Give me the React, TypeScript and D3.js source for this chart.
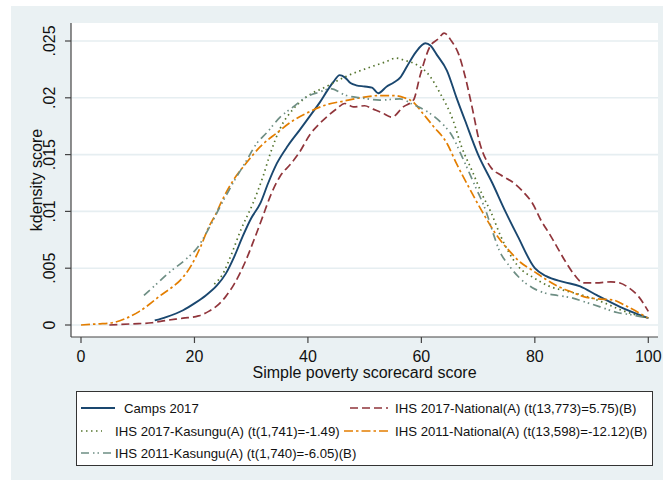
import React from 'react';
import * as d3 from 'd3';

// kdensity estimates: [score, density]
const camps2017: [number, number][] = [
  [13, 0.0004], [15, 0.0007], [18, 0.0013], [20, 0.0019], [22, 0.0026], [24, 0.0035],
  [25.5, 0.0045], [27, 0.006], [28.5, 0.0078], [30, 0.0094], [31.6, 0.0107], [33, 0.0125],
  [34.5, 0.0142], [36.5, 0.0158], [38.6, 0.0172], [40.5, 0.0185], [42.1, 0.0196], [43.5, 0.0207],
  [44.5, 0.0214], [45.6, 0.022], [46.5, 0.0218], [47.5, 0.0213], [48.5, 0.0211], [50, 0.021],
  [51.3, 0.0209], [52.4, 0.0204], [53.9, 0.021], [55, 0.0213], [56.3, 0.0218], [57.5, 0.0228],
  [59, 0.024], [60.7, 0.0248], [61.6, 0.0246], [62.7, 0.0238], [64.5, 0.0224], [66.2, 0.02],
  [67.7, 0.018], [70, 0.015], [72.5, 0.0125], [74.8, 0.01], [77, 0.0078], [80, 0.005],
  [82, 0.0043], [85, 0.0038], [88, 0.0034], [91, 0.0026], [95, 0.0016], [100, 0.0006],
];

const ihs2017National: [number, number][] = [
  [5, 0.0], [9, 0.0001], [12.5, 0.0002], [15, 0.0004], [18, 0.0006], [20.7, 0.0008],
  [22.5, 0.0012], [24, 0.0017], [25.5, 0.0025], [27, 0.0036], [28.9, 0.0055], [30.5, 0.0075],
  [32, 0.0095], [33.5, 0.0115], [35.1, 0.0131], [37, 0.0142], [38.5, 0.0152], [40.4, 0.0168],
  [42, 0.0177], [43.5, 0.0184], [45, 0.019], [46.5, 0.0195], [48, 0.0192], [50, 0.0193],
  [51.5, 0.019], [53, 0.0187], [54.8, 0.0183], [56.8, 0.0192], [58.6, 0.0198], [59.8, 0.022],
  [61.5, 0.0245], [63, 0.0252], [64, 0.0257], [65.3, 0.025], [66.6, 0.0238], [67.7, 0.0219],
  [68.8, 0.0195], [70.3, 0.016], [72.2, 0.0139], [74, 0.0132], [76.3, 0.0125], [78, 0.0117],
  [79.6, 0.0107], [81.1, 0.0092], [82.6, 0.008], [84.1, 0.0067], [85.5, 0.0055], [86.7, 0.0046],
  [88.6, 0.0037], [90.8, 0.0037], [93.4, 0.0038], [95, 0.0037], [96.5, 0.0033], [98.3, 0.0025],
  [100, 0.0012],
];

const ihs2017Kasungu: [number, number][] = [
  [23.5, 0.0036], [25, 0.0045], [26.5, 0.0062], [28.2, 0.0084], [30.3, 0.0107], [32.1, 0.0131],
  [33.3, 0.015], [35.1, 0.0173], [37.4, 0.019], [39.8, 0.0201], [43.3, 0.021], [46.8, 0.0219],
  [50.4, 0.0226], [53.9, 0.0232], [55.5, 0.0235], [57, 0.0233], [59.2, 0.0229], [61.5, 0.0219],
  [63.3, 0.0204], [65.6, 0.018], [67, 0.0158], [69, 0.0135], [70.7, 0.0115], [72.2, 0.01],
  [74, 0.0078], [77, 0.0052], [80, 0.0041], [82.6, 0.0034], [85.5, 0.003], [88.6, 0.0026],
  [92, 0.002], [95.3, 0.0013], [100, 0.0006],
];

const ihs2011National: [number, number][] = [
  [0, 0.0], [3, 0.0001], [5.5, 0.0002], [8, 0.0006], [10.3, 0.0012], [12, 0.0018],
  [14, 0.0026], [16, 0.0033], [17.8, 0.0041], [19.5, 0.0053], [21, 0.0068], [22.5, 0.0086],
  [23.7, 0.0097], [24.8, 0.0109], [26.8, 0.0127], [29.2, 0.0143], [31.6, 0.0157], [34.5, 0.0169],
  [37.4, 0.018], [40.4, 0.0188], [43.3, 0.0194], [46.2, 0.0197], [49.2, 0.02], [52.7, 0.0202],
  [55, 0.0202], [57, 0.02], [58.6, 0.0196], [60.3, 0.0186], [62.1, 0.0175], [64.5, 0.016],
  [66.2, 0.0142], [68.5, 0.012], [70.7, 0.01], [73, 0.0081], [75.9, 0.0063], [77.5, 0.0055],
  [79.6, 0.0048], [82, 0.004], [84.1, 0.0034], [86.5, 0.0029], [88.6, 0.0025], [91, 0.0023],
  [93.8, 0.0022], [96, 0.0017], [100, 0.0006],
];

const ihs2011Kasungu: [number, number][] = [
  [11.1, 0.0026], [13.5, 0.0037], [15.5, 0.0046], [18.5, 0.0058], [20.5, 0.0068], [22.2, 0.0082],
  [24.5, 0.0104], [26.8, 0.0125], [29.2, 0.0145], [31, 0.016], [32.7, 0.0169], [35.1, 0.0183],
  [37.4, 0.0192], [39.8, 0.0201], [42, 0.0205], [44, 0.0208], [46.8, 0.0202], [49.2, 0.02],
  [52.7, 0.0198], [56.2, 0.0199], [58.6, 0.0194], [61, 0.0188], [63.3, 0.0179], [65.6, 0.0165],
  [67, 0.015], [69.5, 0.0122], [71.4, 0.01], [72.7, 0.008], [73.7, 0.0066], [75.5, 0.0052],
  [77.4, 0.0041], [79.5, 0.0033], [81.9, 0.0028], [84, 0.0026], [86.4, 0.0024], [89, 0.002],
  [91.5, 0.0016], [94.5, 0.0011], [97, 0.0009], [100, 0.0006],
];

const xTicks = [0, 20, 40, 60, 80, 100];
const yTicks = [0, 0.005, 0.01, 0.015, 0.02, 0.025];
const yTickLabels = ['0', '.005', '.01', '.015', '.02', '.025'];

const seriesLabels = [
  'Camps 2017',
  'IHS 2017-National(A) (t(13,773)=5.75)(B)',
  'IHS 2017-Kasungu(A) (t(1,741)=-1.49)',
  'IHS 2011-National(A) (t(13,598)=-12.12)(B)',
  'IHS 2011-Kasungu(A) (t(1,740)=-6.05)(B)',
];

const series = [
  { data: camps2017, color: '#1a476f', dash: 'none', width: 1.9 },
  { data: ihs2017National, color: '#90353b', dash: '8,4', width: 1.7 },
  { data: ihs2017Kasungu, color: '#55752f', dash: '1.5,3.5', width: 1.7 },
  { data: ihs2011National, color: '#e37e00', dash: '9,3,2.5,3', width: 1.7 },
  { data: ihs2011Kasungu, color: '#6e8e84', dash: '8,4,1.5,3,1.5,4', width: 1.7 },
];

const font = 'Arial, "Liberation Sans", Helvetica, sans-serif';

export default function App() {
  const W = 663;
  const H = 484;
  // plot region (white)
  const plot = { left: 71, right: 658, top: 23, bottom: 337 };

  const x = d3.scaleLinear().domain([0, 100]).range([81, 648.3]);
  const y = d3.scaleLinear().domain([0, 0.025]).range([325, 41]);

  const line = d3
    .line<[number, number]>()
    .x((d) => x(d[0]))
    .y((d) => y(d[1]))
    .curve(d3.curveMonotoneX);

  // legend layout
  const legendRows = [408, 431, 453];
  const legendItems = [
    { s: 0, col: 0, row: 0, keyX: [81, 115], textX: 124 },
    { s: 1, col: 1, row: 0, keyX: [350, 388], textX: 395 },
    { s: 2, col: 0, row: 1, keyX: [81, 102], textX: 115 },
    { s: 3, col: 1, row: 1, keyX: [344, 388], textX: 395 },
    { s: 4, col: 0, row: 2, keyX: [81, 115], textX: 115 },
  ];

  return (
    <svg
      width={W}
      height={H}
      style={{ position: 'absolute', left: 0, top: 0, display: 'block' }}
      fontFamily={font}
    >
      <rect x={0} y={0} width={W} height={H} fill="#ffffff" />
      <rect x={11} y={6} width={W - 11} height={474} fill="#eaf1f3" />
      <rect
        x={plot.left}
        y={plot.top}
        width={plot.right - plot.left}
        height={plot.bottom - plot.top}
        fill="#ffffff"
      />

      {/* grid lines */}
      {yTicks.map((t) => (
        <line
          key={'g' + t}
          x1={plot.left}
          x2={plot.right}
          y1={y(t)}
          y2={y(t)}
          stroke="#e6eef1"
          strokeWidth={1.6}
        />
      ))}

      {/* density curves */}
      {series.map((s, i) => (
        <path
          key={'s' + i}
          d={line(s.data) || ''}
          fill="none"
          stroke={s.color}
          strokeWidth={s.width}
          strokeDasharray={s.dash}
          strokeLinejoin="round"
        />
      ))}

      {/* y axis */}
      <line x1={plot.left} x2={plot.left} y1={plot.top} y2={plot.bottom} stroke="#444" strokeWidth={1.2} />
      {yTicks.map((t, i) => (
        <g key={'y' + t}>
          <line x1={plot.left - 6} x2={plot.left} y1={y(t)} y2={y(t)} stroke="#444" strokeWidth={1.2} />
          <text
            transform={`translate(55,${y(t)}) rotate(-90)`}
            textAnchor="middle"
            fontSize={16}
            fill="#111"
          >
            {yTickLabels[i]}
          </text>
        </g>
      ))}
      <text
        transform={`translate(42,${(plot.top + plot.bottom) / 2}) rotate(-90)`}
        textAnchor="middle"
        fontSize={16}
        fill="#111"
      >
        kdensity score
      </text>

      {/* x axis */}
      <line x1={plot.left} x2={plot.right} y1={plot.bottom} y2={plot.bottom} stroke="#444" strokeWidth={1.2} />
      {xTicks.map((t) => (
        <g key={'x' + t}>
          <line x1={x(t)} x2={x(t)} y1={plot.bottom} y2={plot.bottom + 6} stroke="#444" strokeWidth={1.2} />
          <text x={x(t)} y={362} textAnchor="middle" fontSize={16} fill="#111">
            {t}
          </text>
        </g>
      ))}
      <text x={(plot.left + plot.right) / 2} y={378} textAnchor="middle" fontSize={16} fill="#111">
        Simple poverty scorecard score
      </text>

      {/* legend */}
      <rect x={76.5} y={391.5} width={576} height={74} fill="#ffffff" stroke="#333" strokeWidth={1} />
      {legendItems.map((it) => {
        const s = series[it.s];
        const ry = legendRows[it.row];
        return (
          <g key={'l' + it.s}>
            <line
              x1={it.keyX[0]}
              x2={it.keyX[1]}
              y1={ry}
              y2={ry}
              stroke={s.color}
              strokeWidth={s.width}
              strokeDasharray={s.dash}
            />
            <text x={it.textX} y={ry + 4.5} fontSize={13.2} fill="#111">
              {seriesLabels[it.s]}
            </text>
          </g>
        );
      })}
    </svg>
  );
}
